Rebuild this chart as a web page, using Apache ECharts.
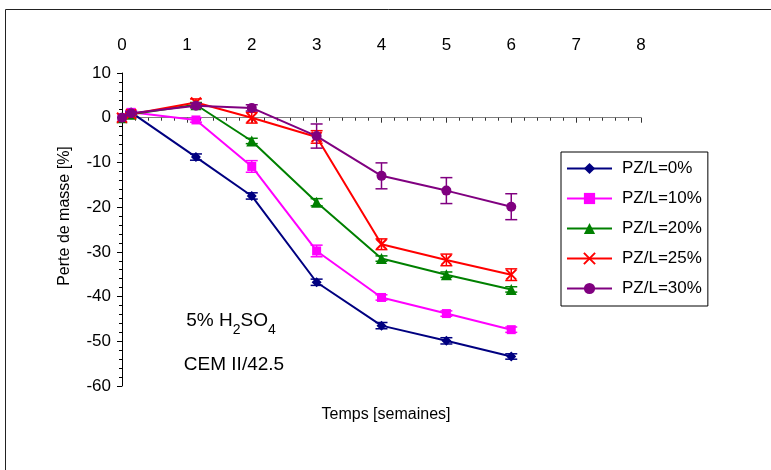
<!DOCTYPE html>
<html>
<head>
    <meta charset="utf-8">
    <title>Perte de masse - H2SO4</title>
    <script src="https://cdn.jsdelivr.net/npm/echarts@6/dist/echarts.min.js"></script>
    <style>
        body { margin: 0; background: #fff; }
        #main { width: 771px; height: 470px; }
    </style>
</head>
<body>
    <div id="main"></div>
    <script type="text/javascript">
    // temps en semaines (1 jour = 0.14, 8 jours = 1.14)
    var weeks = [0, 0.14, 1.14, 2, 3, 4, 5, 6];
    var xTicks = [0, 1, 2, 3, 4, 5, 6, 7, 8];

    var names = ['PZ/L=0%', 'PZ/L=10%', 'PZ/L=20%', 'PZ/L=25%', 'PZ/L=30%'];
    var pz0  = [0, 1.2, -8.8, -17.5, -36.8, -46.5, -49.9, -53.4];
    var pz10 = [0, 1.2, -0.5, -10.9, -29.8, -40.2, -43.8, -47.4];
    var pz20 = [0, 0.8, 2.9, -5.2, -18.9, -31.5, -35.1, -38.4];
    var pz25 = [0, 0.8, 3.4, 0, -4.3, -28.3, -31.8, -35.1];
    var pz30 = [0, 1.0, 2.7, 2.2, -4.1, -13.0, -16.3, -19.9];

    // ecarts (barres d'erreur +/-)
    var err0  = [0, 0.3, 0.7, 0.7, 0.7, 0.7, 0.7, 0.6];
    var err10 = [0, 0.3, 0.5, 1.3, 1.3, 0.6, 0.6, 0.6];
    var err20 = [0, 0.3, 0.5, 0.6, 0.8, 0.6, 0.6, 0.6];
    var err25 = [0, 0.3, 0.8, 1.2, 1.4, 1.2, 1.3, 1.3];
    var err30 = [0, 0.3, 0.5, 0.7, 2.7, 2.9, 2.9, 2.9];

    var values = [pz0, pz10, pz20, pz25, pz30];
    var errors = [err0, err10, err20, err25, err30];
    var colors = ['#000080', '#ff00ff', '#008000', '#ff0000', '#800080'];
    var symbols = ['diamond', 'rect', 'triangle', 'path://M0,0L10,10M10,0L0,10', 'circle'];
    var sizes = [10, 9, 11, 10, 10];

    var font = 'Liberation Sans, Arial, sans-serif';

    var myChart = echarts.init(document.getElementById('main'));

    var series = [];
    for (var i = 0; i < values.length; i++) {
        var pts = [];
        var bars = [];
        for (var j = 0; j < weeks.length; j++) {
            pts.push([weeks[j], values[i][j]]);
            if (errors[i][j] > 0) {
                bars.push([weeks[j], values[i][j] - errors[i][j], values[i][j] + errors[i][j]]);
            }
        }
        series.push({
            name: 'err' + i,
            type: 'custom',
            xAxisIndex: 1,
            data: bars,
            encode: { x: 0, y: [1, 2] },
            z: 2 + i * 2,
            silent: true,
            renderItem: (function (c) {
                return function (params, api) {
                    var x = api.value(0);
                    var lo = api.coord([x, api.value(1)]);
                    var hi = api.coord([x, api.value(2)]);
                    var w = 6;
                    var st = { stroke: c, lineWidth: 1.5 };
                    return {
                        type: 'group',
                        children: [
                            { type: 'line', shape: { x1: lo[0], y1: lo[1], x2: hi[0], y2: hi[1] }, style: st },
                            { type: 'line', shape: { x1: lo[0] - w, y1: lo[1], x2: lo[0] + w, y2: lo[1] }, style: st },
                            { type: 'line', shape: { x1: hi[0] - w, y1: hi[1], x2: hi[0] + w, y2: hi[1] }, style: st }
                        ]
                    };
                };
            })(colors[i])
        });
        series.push({
            name: names[i],
            type: 'line',
            xAxisIndex: 1,
            data: pts,
            symbol: symbols[i],
            symbolSize: sizes[i],
            showAllSymbol: true,
            z: 3 + i * 2,
            lineStyle: { color: colors[i], width: 2 },
            itemStyle: {
                color: i === 3 ? 'none' : colors[i],
                borderColor: colors[i],
                borderWidth: i === 3 ? 2 : 0
            },
            emphasis: { disabled: true }
        });
    }

    var option = {
        animation: false,
        backgroundColor: '#fff',
        textStyle: { fontFamily: font },
        grid: { left: 122, top: 73, width: 519, height: 313 },
        legend: {
            data: names,
            orient: 'vertical',
            left: 561,
            top: 152,
            itemWidth: 45,
            itemHeight: 14,
            itemGap: 13,
            padding: [8, 6, 9, 5],
            borderColor: '#000',
            borderWidth: 1,
            backgroundColor: '#fff',
            textStyle: { fontSize: 17, color: '#000', fontFamily: font, padding: [0, 0, 0, 5] }
        },
        xAxis: [
            {
                // labels en haut seulement
                type: 'value',
                position: 'top',
                min: 0,
                max: 8,
                interval: 1,
                axisLine: { show: false, onZero: false },
                axisTick: { show: false },
                splitLine: { show: false },
                axisLabel: { fontSize: 17, color: '#000', margin: 19, fontFamily: font }
            },
            {
                // axe sur y = 0
                type: 'value',
                position: 'bottom',
                min: 0,
                max: 8,
                interval: 1,
                axisLine: { show: true, onZero: true, lineStyle: { color: '#808080', width: 1 } },
                axisTick: { show: true, length: 5, lineStyle: { color: '#333' } },
                minorTick: { show: true, splitNumber: 5, length: 3, lineStyle: { color: '#333' } },
                splitLine: { show: false },
                axisLabel: { show: false }
            }
        ],
        yAxis: {
            type: 'value',
            min: -60,
            max: 10,
            interval: 10,
            axisLine: { show: true, onZero: false, lineStyle: { color: '#000', width: 1 } },
            axisTick: { show: true, length: 5, lineStyle: { color: '#000' } },
            minorTick: { show: true, splitNumber: 5, length: 3, lineStyle: { color: '#000' } },
            splitLine: { show: false },
            axisLabel: { fontSize: 17, color: '#000', margin: 11, fontFamily: font }
        },
        graphic: [
            {
                type: 'rect',
                shape: { x: 5.5, y: 9.5, width: 820, height: 520 },
                style: { fill: 'none', stroke: '#222', lineWidth: 1 },
                silent: true,
                z: -10
            },
            {
                type: 'text',
                x: 65,
                y: 216,
                rotation: Math.PI / 2,
                style: {
                    text: 'Perte de masse [%]',
                    fontSize: 16,
                    fontFamily: font,
                    fill: '#000',
                    align: 'center',
                    verticalAlign: 'middle'
                }
            },
            {
                type: 'text',
                x: 386,
                y: 415,
                style: {
                    text: 'Temps [semaines]',
                    fontSize: 16,
                    fontFamily: font,
                    fill: '#000',
                    align: 'center',
                    verticalAlign: 'middle'
                }
            },
            {
                type: 'text',
                x: 231,
                y: 322,
                style: {
                    text: '{n|5% H}{s|2}{n|SO}{s|4}',
                    fontFamily: font,
                    fill: '#000',
                    align: 'center',
                    verticalAlign: 'middle',
                    rich: {
                        n: { fontSize: 19, lineHeight: 22, verticalAlign: 'top', fontFamily: font },
                        s: { fontSize: 14, lineHeight: 14, padding: [12, 0, 0, 0], verticalAlign: 'top', fontFamily: font }
                    }
                }
            },
            {
                type: 'text',
                x: 234,
                y: 365,
                style: {
                    text: 'CEM II/42.5',
                    fontSize: 19,
                    fontFamily: font,
                    fill: '#000',
                    align: 'center',
                    verticalAlign: 'middle'
                }
            }
        ],
        series: series
    };

    myChart.setOption(option);
    </script>
</body>
</html>
